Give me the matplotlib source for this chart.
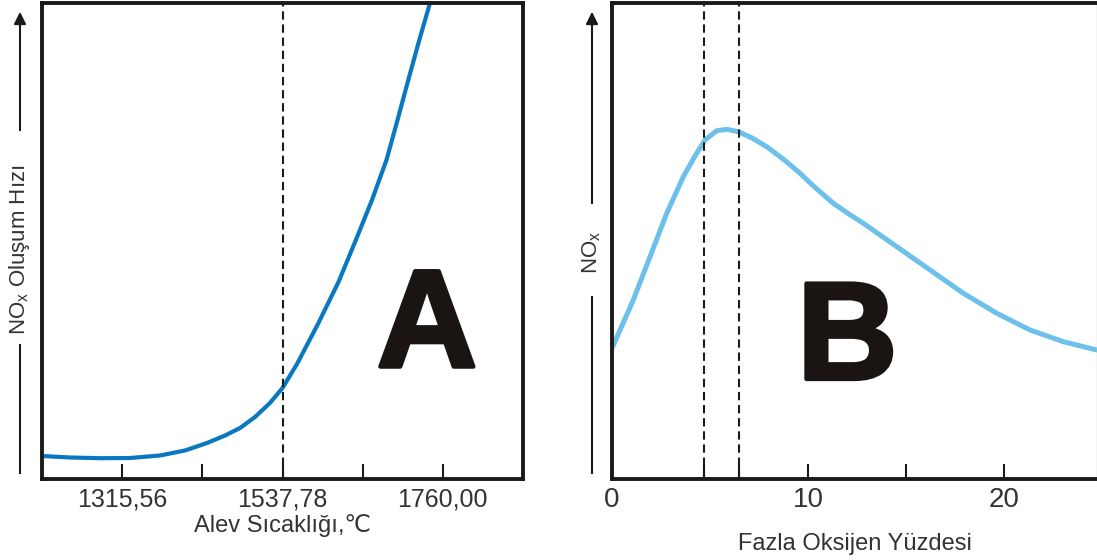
import matplotlib
matplotlib.use("Agg")
import matplotlib.pyplot as plt
import matplotlib.patheffects as pe

plt.rcParams['font.family'] = ['Liberation Sans', 'DejaVu Sans']
plt.rcParams['mathtext.fontset'] = 'custom'
plt.rcParams['mathtext.rm'] = 'Liberation Sans'
plt.rcParams['mathtext.it'] = 'Liberation Sans'

# ---- Panel A data: flame temperature (°C) vs NOx formation rate (relative) ----
temp_c = [1204.44, 1243.2, 1284.8, 1326.4, 1368.0, 1402.6, 1433.1, 1458.1, 1478.9,
          1499.7, 1520.4, 1537.78, 1557.9, 1586.9, 1615.4, 1638.9, 1661.8, 1681.9,
          1697.2, 1712.1, 1727.4, 1742.2, 1756.1]
rate_a = [4.83, 4.52, 4.37, 4.41, 4.94, 5.99, 7.56, 9.14, 10.71,
          13.03, 15.97, 19.12, 24.16, 32.56, 41.39, 50.0, 58.61, 67.02,
          75.42, 83.82, 92.23, 100.0, 107.56]
a_ticks = [1315.56, 1426.67, 1537.78, 1648.89, 1760.00]
a_labels = ['1315,56', '', '1537,78', '', '1760,00']
a_marker = 1537.78
a_xlim = (1204.44, 1871.11)

# ---- Panel B data: excess oxygen (%) vs NOx (relative) ----
oxy_pct = [0.0, 1.087, 1.939, 2.791, 3.638, 4.235, 4.745, 5.342, 5.852, 6.444,
           7.143, 7.893, 8.827, 9.592, 10.357, 11.291, 12.041, 12.821, 14.526,
           16.224, 17.923, 19.628, 21.327, 23.026, 24.73]
nox_b = [27.46, 37.61, 46.70, 55.82, 63.51, 67.86, 71.22, 73.17, 73.47, 72.96,
         71.64, 69.81, 66.91, 64.22, 61.24, 57.92, 55.78, 53.72, 48.80,
         43.91, 39.01, 34.81, 31.30, 28.84, 27.10]
b_ticks = [10, 15, 20]
b_labels = ['10', '', '20']
b_markers = [4.7, 6.5]
b_xlim = (0, 24.74)

W, H = 1097, 560
fig = plt.figure(figsize=(W / 100, H / 100), dpi=100)

def fx(px):
    return px / W

def fy(py):
    return 1 - py / H

axA = fig.add_axes([fx(42), fy(479), fx(523) - fx(42), fy(3) - fy(479)])
axB = fig.add_axes([fx(612), fy(479), fx(1097) - fx(612), fy(3) - fy(479)])

for ax in (axA, axB):
    ax.set_ylim(0, 100)
    ax.set_yticks([])
    for s in ax.spines.values():
        s.set_linewidth(2.8)
        s.set_color('#1a1a1a')
    ax.tick_params(axis='x', direction='in', length=11, width=1.5, color='#1a1a1a',
                   labelcolor='#333333', pad=6)

# Panel A
axA.plot(temp_c, rate_a, color='#0a78c0', lw=3.0, solid_capstyle='round',
         solid_joinstyle='round')
axA.set_xlim(*a_xlim)
axA.set_xticks(a_ticks)
axA.set_xticklabels(a_labels, fontsize=18)
axA.axvline(a_marker, color='#1a1a1a', lw=1.5, dashes=[4, 2.3])
axA.set_xlabel('Alev Sıcaklığı,℃', fontsize=17, color='#333333', labelpad=2)
axA.text(1738, 23.6, 'A', fontsize=100, fontweight='bold', color='#1a1512',
         ha='center', va='baseline',
         path_effects=[pe.withStroke(linewidth=3, foreground='#1a1512')])

# Panel B
axB.plot(oxy_pct, nox_b, color='#6cc0ea', lw=3.6, solid_capstyle='round',
         solid_joinstyle='round')
axB.set_xlim(*b_xlim)
axB.set_xticks([0] + b_markers + b_ticks)
axB.set_xticklabels(['0', '', ''] + b_labels, fontsize=20)
for m in b_markers:
    axB.axvline(m, color='#1a1a1a', lw=1.5, dashes=[4, 2.3])
axB.set_xlabel('Fazla Oksijen Yüzdesi', fontsize=17, color='#333333', labelpad=14)
axB.spines['right'].set_color('#c8c8c8')
axB.spines['right'].set_linewidth(1.0)
axB.text(12.0, 21.0, 'B', fontsize=100, fontweight='bold', color='#1a1512',
         ha='center', va='baseline',
         path_effects=[pe.withStroke(linewidth=3, foreground='#1a1512')])

# y-axis labels with arrows (figure coordinates)
def axis_arrow(xp, y_low_top, text_mid, y_up_bot, label, size):
    fig.add_artist(plt.Line2D([fx(xp), fx(xp)], [fy(473), fy(y_low_top)],
                              color='#1a1a1a', lw=1.5, transform=fig.transFigure))
    fig.text(fx(xp), fy(text_mid), label, rotation=90, ha='center', va='center',
             fontsize=size, color='#333333')
    fig.add_artist(plt.Line2D([fx(xp), fx(xp)], [fy(y_up_bot), fy(20)],
                              color='#1a1a1a', lw=1.5, transform=fig.transFigure))
    fig.add_artist(matplotlib.patches.FancyArrowPatch(
        (fx(xp), fy(30)), (fx(xp), fy(9)), transform=fig.transFigure,
        arrowstyle='-|>', mutation_scale=18, color='#1a1a1a', lw=1.5))

axis_arrow(20, 345, 250, 130, r'NO$_\mathrm{x}$ Oluşum Hızı', 16)
axis_arrow(592, 297, 252, 203, r'NO$_\mathrm{x}$', 16)

fig.savefig('out.png', dpi=100)
